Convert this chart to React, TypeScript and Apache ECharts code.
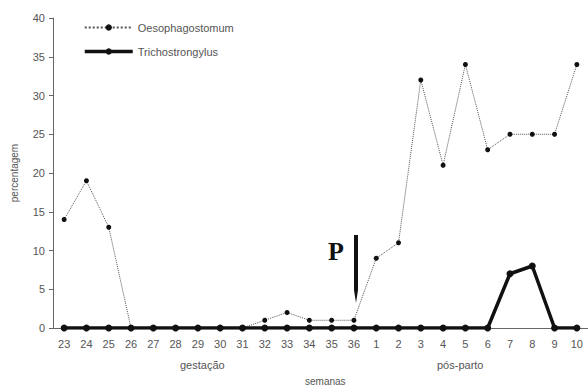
import React, { useEffect, useRef } from "react";
import * as echarts from "echarts";

const weeks = ["23","24","25","26","27","28","29","30","31","32","33","34","35","36","1","2","3","4","5","6","7","8","9","10"];
const oesophagostomum = [14,19,13,0,0,0,0,0,0,1,2,1,1,1,9,11,32,21,34,23,25,25,25,34];
const trichostrongylus = [0,0,0,0,0,0,0,0,0,0,0,0,0,0,0,0,0,0,0,0,7,8,0,0];
const yTicks = { min: 0, max: 40, interval: 5 };

export default function App() {
  const ref = useRef<HTMLDivElement>(null);
  useEffect(() => {
    const chart = echarts.init(ref.current!, null, { renderer: "svg" });
    const gray = "#666";
    chart.setOption({
      animation: false,
      backgroundColor: "#fff",
      textStyle: { fontFamily: "Liberation Sans, Arial, sans-serif" },
      grid: { left: 53, top: 18, width: 541, height: 310 },
      legend: {
        orient: "vertical",
        left: 78,
        top: 17,
        itemWidth: 48,
        itemHeight: 8,
        itemGap: 13,
        textStyle: { color: "#555", fontSize: 11, fontFamily: "Liberation Sans, Arial, sans-serif" },
        data: [
          { name: "Oesophagostomum" },
          { name: "Trichostrongylus", lineStyle: { width: 3.5, color: "#111" } },
        ],
      },
      xAxis: {
        type: "category",
        data: weeks,
        boundaryGap: true,
        axisLine: { lineStyle: { color: gray, width: 1 } },
        axisTick: { lineStyle: { color: gray }, length: 4 },
        axisLabel: { color: "#555", fontSize: 11, margin: 10 },
      },
      yAxis: {
        type: "value",
        min: yTicks.min,
        max: yTicks.max,
        interval: yTicks.interval,
        name: "percentagem",
        nameLocation: "middle",
        nameGap: 34,
        nameTextStyle: { color: "#555", fontSize: 10 },
        splitLine: { show: false },
        axisLine: { show: true, lineStyle: { color: gray } },
        axisTick: { show: true, lineStyle: { color: gray }, length: 4 },
        axisLabel: { color: "#555", fontSize: 11, margin: 8 },
      },
      series: [
        {
          name: "Oesophagostomum",
          type: "line",
          data: oesophagostomum,
          symbol: "circle",
          symbolSize: 5,
          itemStyle: { color: "#111" },
          lineStyle: { color: "#555", width: 1, type: "dotted" },
          z: 2,
        },
        {
          name: "Trichostrongylus",
          type: "line",
          data: trichostrongylus,
          symbol: "circle",
          symbolSize: 7,
          itemStyle: { color: "#111" },
          lineStyle: { color: "#111", width: 3.5 },
          z: 3,
        },
      ],
      graphic: [
        { type: "text", left: 180, top: 359, style: { text: "gestação", fill: "#555", font: "11px Liberation Sans, Arial, sans-serif" } },
        { type: "text", left: 437, top: 359, style: { text: "pós-parto", fill: "#555", font: "11px Liberation Sans, Arial, sans-serif" } },
        { type: "text", left: 305, top: 376, style: { text: "semanas", fill: "#555", font: "10px Liberation Sans, Arial, sans-serif" } },
        { type: "text", left: 328, top: 238, style: { text: "P", fill: "#111", font: "bold 26px Liberation Serif, Times New Roman, serif" } },
        {
          type: "polygon",
          shape: { points: [[354, 235], [358, 235], [358, 290], [356, 303], [354, 290]] },
          style: { fill: "#111" },
        },
      ],
    });
    return () => chart.dispose();
  }, []);
  return <div ref={ref} style={{ width: 588, height: 388, position: "absolute", left: 0, top: 0 }} />;
}
